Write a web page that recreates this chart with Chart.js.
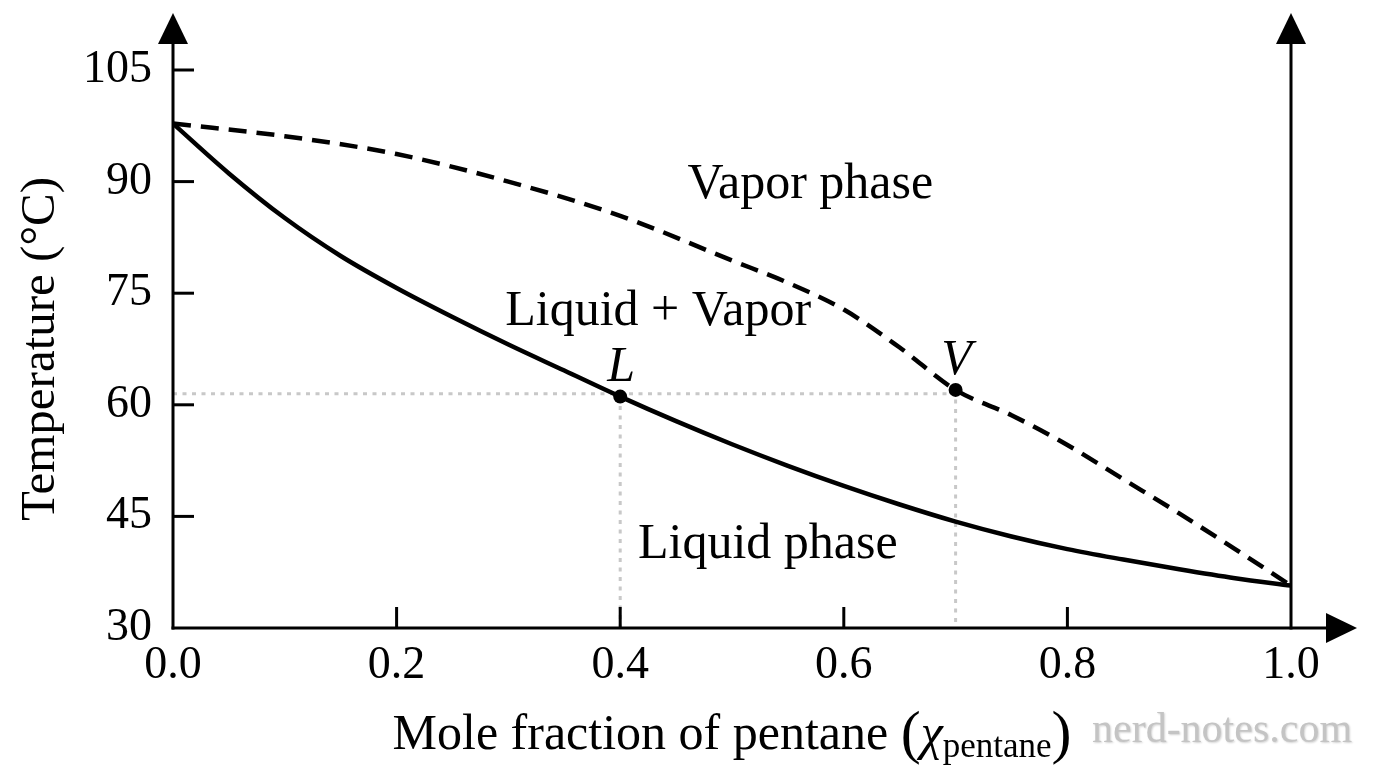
<!DOCTYPE html>
<html>
<head>
<meta charset="utf-8">
<script src="https://cdn.jsdelivr.net/npm/chart.js@4.4.0/dist/chart.umd.min.js"></script>
<style>
  html, body { margin: 0; padding: 0; background: #fff; }
  canvas { display: block; }
</style>
</head>
<body>
<canvas id="phaseChart" width="1376" height="768"></canvas>
<script>
// Boiling curve (liquid) and dew curve (vapor)
const liquidX = [0, 0.05, 0.1, 0.15, 0.2, 0.25, 0.3, 0.35, 0.4, 0.45, 0.5,
                 0.55, 0.6, 0.65, 0.7, 0.75, 0.8, 0.85, 0.9, 0.95, 1.0];
const liquidT = [97.8, 91.1, 85.1, 80.0, 75.7, 71.8, 68.1, 64.6, 61.1, 57.8, 54.7,
                 51.8, 49.1, 46.6, 44.3, 42.3, 40.6, 39.2, 37.9, 36.7, 35.7];
const vaporX = [0, 0.1, 0.2, 0.3, 0.4, 0.5, 0.55, 0.6, 0.65, 0.7, 0.75, 0.8, 0.85, 0.9, 0.95, 1.0];
const vaporT = [97.8, 96.1, 93.7, 90.0, 85.4, 79.4, 76.4, 72.8, 67.7, 62.0, 58.6, 54.6, 50.0, 45.4, 40.6, 35.7];

// Tie line points L and V
const pointNames = ["L", "V"];
const pointX = [0.4, 0.7];
const pointT = [61.1, 62.0];
const tieT = 61.5;

const xTicks = [0, 0.2, 0.4, 0.6, 0.8, 1.0];
const yTicks = [30, 45, 60, 75, 90, 105];
const regionNames = ["Vapor phase", "Liquid + Vapor", "Liquid phase"];

const FONT = "'Liberation Serif', 'DejaVu Serif', serif";
const GREY = "#c8c8c8";

// where the region names sit (data coords of the text baseline centre)
const regionAnchors = [[0.570, 87.8], [0.434, 70.7], [0.532, 39.4]];

const toPts = (xs, ys) => xs.map((x, i) => ({ x: x, y: ys[i] }));

function arrowHead(ctx, x, y, dir) {
  ctx.beginPath();
  if (dir === "up") {
    ctx.moveTo(x, y);
    ctx.lineTo(x - 15, y + 31);
    ctx.lineTo(x + 15, y + 31);
  } else {
    ctx.moveTo(x, y);
    ctx.lineTo(x - 31, y - 15);
    ctx.lineTo(x - 31, y + 15);
  }
  ctx.closePath();
  ctx.fill();
}

function line(ctx, x1, y1, x2, y2) {
  ctx.beginPath();
  ctx.moveTo(x1, y1);
  ctx.lineTo(x2, y2);
  ctx.stroke();
}

const decorations = {
  id: "decorations",
  afterDatasetsDraw(chart) {
    const ctx = chart.ctx;
    const { left, right, top, bottom } = chart.chartArea;
    const xs = chart.scales.x, ys = chart.scales.y;
    ctx.save();
    ctx.strokeStyle = "#000";
    ctx.fillStyle = "#000";
    ctx.lineWidth = 3;
    ctx.lineCap = "butt";

    // axes with arrows
    line(ctx, left, bottom + 1.5, left, top - 27);
    arrowHead(ctx, left, top - 57, "up");
    line(ctx, right, bottom + 1.5, right, top - 27);
    arrowHead(ctx, right, top - 57, "up");
    line(ctx, left - 1.5, bottom, right + 36, bottom);
    arrowHead(ctx, right + 66, bottom, "right");

    // inward tick marks
    xTicks.slice(1, -1).forEach(v => {
      const px = xs.getPixelForValue(v);
      line(ctx, px, bottom, px, bottom - 21);
    });
    yTicks.slice(1).forEach(v => {
      const py = ys.getPixelForValue(v);
      line(ctx, left, py, left + 21, py);
    });

    // L and V labels
    ctx.font = "italic 50px " + FONT;
    ctx.textAlign = "center";
    ctx.textBaseline = "alphabetic";
    pointNames.forEach((n, i) => {
      ctx.fillText(n, xs.getPixelForValue(pointX[i]) + 1, ys.getPixelForValue(pointT[i]) - 16);
    });

    // region names
    ctx.font = "50px " + FONT;
    regionNames.forEach((n, i) => {
      const a = regionAnchors[i];
      ctx.fillText(n, xs.getPixelForValue(a[0]), ys.getPixelForValue(a[1]));
    });

    // x axis title with subscript
    const base = bottom + 121;
    const parts = [
      { t: "Mole fraction of pentane ", f: "50px " + FONT, dy: 0 },
      { t: "(", f: "60px " + FONT, dy: 3 },
      { t: "\u03c7", f: "italic 50px " + FONT, dy: 0 },
      { t: "pentane", f: "35px " + FONT, dy: 8 },
      { t: ")", f: "60px " + FONT, dy: 3 }
    ];
    let total = 0;
    parts.forEach(p => { ctx.font = p.f; p.w = ctx.measureText(p.t).width; total += p.w; });
    let cx = (left + right) / 2 - total / 2;
    ctx.textAlign = "left";
    parts.forEach(p => {
      ctx.font = p.f;
      ctx.fillText(p.t, cx, base + p.dy);
      cx += p.w;
    });

    // watermark
    ctx.font = "42px " + FONT;
    ctx.fillStyle = "#c4c4c4";
    ctx.shadowColor = "rgba(0,0,0,0.18)";
    ctx.shadowBlur = 2;
    ctx.shadowOffsetX = 1;
    ctx.shadowOffsetY = 1;
    ctx.fillText("nerd-notes.com", 1092, 742);
    ctx.restore();
  }
};

new Chart(document.getElementById("phaseChart"), {
  type: "scatter",
  data: {
    datasets: [
      {
        label: "L, V",
        data: toPts(pointX, pointT),
        pointRadius: 7,
        pointBackgroundColor: "#000",
        pointBorderWidth: 0,
        showLine: false
      },
      {
        label: "Liquid",
        data: toPts(liquidX, liquidT),
        showLine: true,
        borderColor: "#000",
        borderWidth: 4.5,
        pointRadius: 0,
        cubicInterpolationMode: "monotone"
      },
      {
        label: "Vapor",
        data: toPts(vaporX, vaporT),
        showLine: true,
        borderColor: "#000",
        borderWidth: 4.5,
        borderDash: [18, 10],
        pointRadius: 0,
        cubicInterpolationMode: "monotone"
      },
      {
        label: "tie",
        data: [{ x: xTicks[0], y: tieT }, { x: pointX[1], y: tieT }],
        showLine: true,
        borderColor: GREY,
        borderWidth: 3,
        borderDash: [4, 5.5],
        pointRadius: 0
      },
      {
        label: "L drop",
        data: [{ x: pointX[0], y: pointT[0] }, { x: pointX[0], y: yTicks[0] }],
        showLine: true,
        borderColor: GREY,
        borderWidth: 3,
        borderDash: [4, 5.5],
        pointRadius: 0
      },
      {
        label: "V drop",
        data: [{ x: pointX[1], y: pointT[1] }, { x: pointX[1], y: yTicks[0] }],
        showLine: true,
        borderColor: GREY,
        borderWidth: 3,
        borderDash: [4, 5.5],
        pointRadius: 0
      }
    ]
  },
  options: {
    responsive: false,
    animation: false,
    layout: { padding: { left: 0, top: 70, right: 85, bottom: 0 } },
    plugins: { legend: { display: false }, tooltip: { enabled: false } },
    scales: {
      x: {
        type: "linear",
        min: 0,
        max: 1,
        afterBuildTicks: s => { s.ticks = xTicks.map(v => ({ value: v })); },
        afterFit: s => { s.height = 140; },
        grid: { display: false, drawTicks: false },
        border: { display: false },
        ticks: {
          color: "#000",
          font: { family: FONT, size: 46 },
          padding: 10,
          maxRotation: 0,
          callback: v => Number(v).toFixed(1)
        }
      },
      y: {
        type: "linear",
        min: 30,
        max: 105,
        afterBuildTicks: s => { s.ticks = yTicks.map(v => ({ value: v })); },
        afterFit: s => { s.width = 173; },
        grid: { display: false, drawTicks: false },
        border: { display: false },
        ticks: {
          color: "#000",
          font: { family: FONT, size: 46 },
          padding: 21
        },
        title: {
          display: true,
          text: "Temperature (\u00b0C)",
          color: "#000",
          font: { family: FONT, size: 49 },
          padding: { top: 12, bottom: 0 }
        }
      }
    }
  },
  plugins: [decorations]
});
</script>
</body>
</html>
